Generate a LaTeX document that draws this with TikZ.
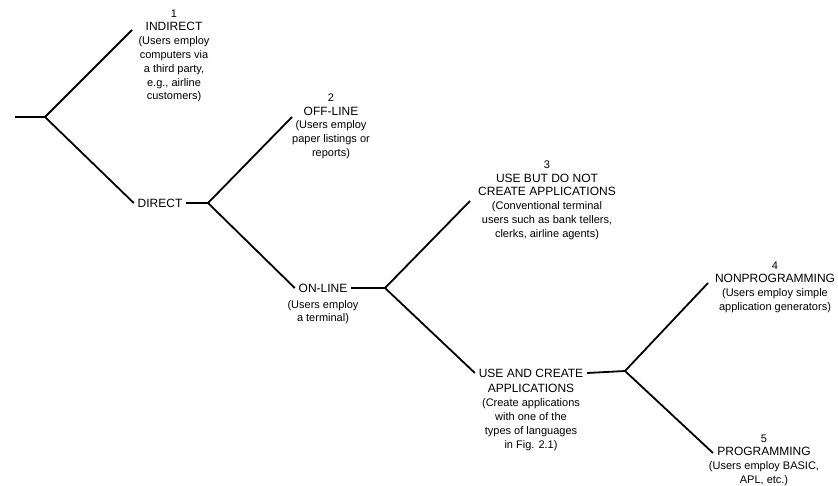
\documentclass[tikz,border=0pt]{standalone}
\usepackage{fontspec}
\setmainfont{Liberation Sans}
\usetikzlibrary{positioning}

\newcommand{\hdr}[1]{{\fontsize{12}{13.8}\selectfont #1}}

\begin{document}
\begin{tikzpicture}[x=1pt,y=-1pt,line width=1.8pt,
    leaf/.style={anchor=north,align=center,inner sep=0pt,font=\fontsize{11}{13.8}\selectfont},
    stem/.style={inner sep=3pt,font=\fontsize{12}{13.8}\selectfont},
    note/.style={anchor=north,align=center,inner sep=0pt,font=\fontsize{11}{13.8}\selectfont}]
  \useasboundingbox (0,0) rectangle (838,486);
       \coordinate (root) at (15,117);
       \coordinate (f0) at (45,117);
       \coordinate (f1) at (208,203);
       \coordinate (f2) at (385,288);
       \coordinate (f3) at (625,371);
       \coordinate (indirectend) at (132,30);
       \coordinate (offlineend) at (292,117);
       \coordinate (usenotend) at (470,201);
       \coordinate (nonprogend) at (708,283);
       \coordinate (progend) at (713,453);

       \node[leaf] (indirect) at (174,8.7) {1\\\hdr{INDIRECT}\\(Users employ\\computers via\\a third party,\\e.g., airline\\customers)};
       \node[leaf] (offline) at (331,92.7) {2\\\hdr{OFF-LINE}\\(Users employ\\paper listings or\\reports)};
       \node[leaf] (usenot) at (547,159.7) {3\\\hdr{USE BUT DO NOT}\\\hdr{CREATE APPLICATIONS}\\(Conventional terminal\\users such as bank tellers,\\clerks, airline agents)};
       \node[leaf] (nonprog) at (775,260.7) {4\\\hdr{NONPROGRAMMING}\\(Users employ simple\\application generators)};
       \node[leaf] (prog) at (764,433.7) {5\\\hdr{PROGRAMMING}\\(Users employ BASIC,\\APL, etc.)};

       \node[stem] (direct) at (160,203) {DIRECT};
       \node[stem] (online) at (323,288) {ON-LINE};
       \node[note,below=3pt of online] (onlinenote) {(Users employ\\a terminal)};
       \node[stem] (usecreate) at (531,373) {USE AND CREATE};
       \node[note,below=2.5pt of usecreate] (usecreatenote) {\hdr{APPLICATIONS}\\(Create applications\\with one of the\\types of languages\\in Fig. 2.1)};

       \draw (root) -- (f0) -- (indirectend);
       \draw (f0) -- (direct.west);
       \draw (direct.east) -- (f1) -- (offlineend);
       \draw (f1) -- (online.west);
       \draw (online.east) -- (f2) -- (usenotend);
       \draw (f2) -- (usecreate.west);
       \draw (usecreate.east) -- (f3) -- (nonprogend);
       \draw (f3) -- (progend);
\end{tikzpicture}
\end{document}
